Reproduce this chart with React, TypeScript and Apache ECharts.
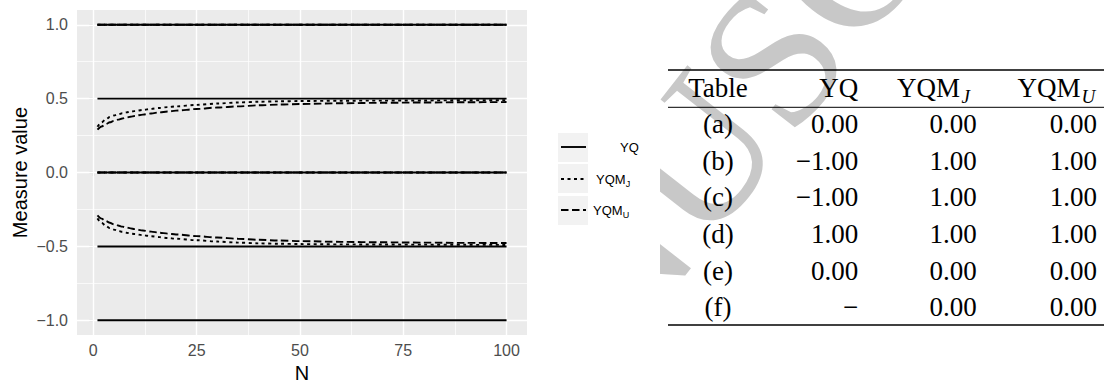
import React, { useEffect, useRef } from 'react';
import * as echarts from 'echarts';

// ---------- data ----------
const nValues = [1, 2, 3, 4, 5, 6, 7, 8, 9, 10, 12, 14, 16, 18, 20, 25, 30, 35, 40, 45, 50, 60, 70, 80, 90, 100];
const yqmJUpper = [0.31, 0.34, 0.36, 0.376, 0.386, 0.394, 0.401, 0.407, 0.412, 0.416, 0.424, 0.431, 0.437, 0.443, 0.448, 0.458, 0.467, 0.474, 0.479, 0.482, 0.484, 0.486, 0.487, 0.488, 0.489, 0.49];
const yqmUUpper = [0.29, 0.312, 0.328, 0.34, 0.35, 0.358, 0.366, 0.372, 0.378, 0.383, 0.392, 0.4, 0.407, 0.413, 0.419, 0.43, 0.44, 0.448, 0.455, 0.46, 0.464, 0.469, 0.472, 0.474, 0.476, 0.477];
const yqmJLower = [-0.31, -0.34, -0.36, -0.376, -0.386, -0.394, -0.401, -0.407, -0.412, -0.416, -0.424, -0.431, -0.437, -0.443, -0.448, -0.458, -0.467, -0.474, -0.479, -0.482, -0.484, -0.486, -0.487, -0.488, -0.489, -0.49];
const yqmULower = [-0.29, -0.312, -0.328, -0.34, -0.35, -0.358, -0.366, -0.372, -0.378, -0.383, -0.392, -0.4, -0.407, -0.413, -0.419, -0.43, -0.44, -0.448, -0.455, -0.46, -0.464, -0.469, -0.472, -0.474, -0.476, -0.477];
const nRange = [1, 100];
const yqLevels = [1, 0.5, 0, -0.5, -1];
const yqmJLevels = [1, 0];
const yqmULevels = [1, 0];
const xTicks = [0, 25, 50, 75, 100];
const yTicks = [-1, -0.5, 0, 0.5, 1];
const xMinor = [12.5, 37.5, 62.5, 87.5];
const yMinor = [-0.75, -0.25, 0.25, 0.75];
const legendMain = ['YQ', 'YQM', 'YQM'];
const legendSub = ['', 'J', 'U'];
const tableRowLabels = ['(a)', '(b)', '(c)', '(d)', '(e)', '(f)'];
const tableYQ = ['0.00', '\u22121.00', '\u22121.00', '1.00', '0.00', '\u2212'];
const tableYQMJ = ['0.00', '1.00', '1.00', '1.00', '0.00', '0.00'];
const tableYQMU = ['0.00', '1.00', '1.00', '1.00', '0.00', '0.00'];
const watermarkText = 'NUSCRIPT';

// ---------- styles ----------
const LW = 1.9;
const DOTTED = [3, 3.5];
const DASHED = [7.5, 3.5];
const SERIF = '"Liberation Serif", "Times New Roman", serif';
const SANS = '"Liberation Sans", Arial, sans-serif';

function fmt(v: number) {
  return v.toFixed(1).replace('-', '\u2212');
}

export default function App() {
  const ref = useRef<HTMLDivElement>(null);
  useEffect(() => {
    if (!ref.current) return;
    const chart = echarts.init(ref.current, undefined, { renderer: 'svg' });

    const curve = (name: string, ys: number[], dash: number[]) => ({
      name,
      type: 'line',
      data: nValues.map((n, i) => [n, ys[i]]),
      showSymbol: false,
      symbol: 'none',
      smooth: 0.3,
      smoothMonotone: 'x',
      z: 12,
      lineStyle: { color: '#000', width: LW, type: dash },
      silent: true,
    });
    const flat = (name: string, v: number, dash: any, z: number) => ({
      name,
      type: 'line',
      data: nRange.map((n) => [n, v]),
      showSymbol: false,
      symbol: 'none',
      z,
      lineStyle: { color: '#000', width: LW, type: dash },
      silent: true,
    });

    const gridMark = [
      ...xTicks.map((v) => ({ xAxis: v, lineStyle: { width: 1.4 } })),
      ...xMinor.map((v) => ({ xAxis: v, lineStyle: { width: 0.7 } })),
      ...yTicks.map((v) => ({ yAxis: v, lineStyle: { width: 1.4 } })),
      ...yMinor.map((v) => ({ yAxis: v, lineStyle: { width: 0.7 } })),
    ];

    const series: any[] = [
      {
        type: 'line',
        data: [],
        z: 1,
        silent: true,
        markLine: {
          z: 1,
          silent: true,
          symbol: 'none',
          animation: false,
          label: { show: false },
          lineStyle: { color: '#ffffff', type: 'solid' },
          data: gridMark,
        },
      },
      ...yqmJLevels.map((v) => flat('YQM_J', v, DOTTED, 11)),
      ...yqmULevels.map((v) => flat('YQM_U', v, DASHED, 11)),
      curve('YQM_J', yqmJUpper, DOTTED),
      curve('YQM_U', yqmUUpper, DASHED),
      curve('YQM_J', yqmJLower, DOTTED),
      curve('YQM_U', yqmULower, DASHED),
      ...yqLevels.map((v) => flat('YQ', v, 'solid', 13)),
    ];

    const graphics: any[] = [];

    // watermark (left part masked, drawn beneath the plot panel)
    const theta = (52 * Math.PI) / 180;
    const fs = 195;
    const anchor = [565, 322];
    graphics.push({
      type: 'text',
      x: anchor[0],
      y: anchor[1],
      rotation: theta,
      style: {
        text: watermarkText,
        fill: '#c8c8c8',
        font: `${fs}px ${SERIF}`,
        textAlign: 'left',
        textVerticalAlign: 'middle',
      },
      z: -2,
    });
    graphics.push({
      type: 'rect',
      shape: { x: 526, y: 0, width: 134, height: 388 },
      style: { fill: '#ffffff' },
      z: -1,
    });

    // legend
    const legendY = [147, 179, 210];
    const legendBoxTop = [133, 164, 196];
    const legendDash: any[] = [null, DOTTED, DASHED];
    const legendTextX = [620, 596, 593];
    legendY.forEach((y, i) => {
      graphics.push({
        type: 'rect',
        shape: { x: 558, y: legendBoxTop[i], width: 30, height: 29 },
        style: { fill: '#F2F2F2' },
        z: 10,
      });
      graphics.push({
        type: 'line',
        shape: { x1: 561, y1: y, x2: 586, y2: y },
        style: { stroke: '#000', lineWidth: LW, lineDash: legendDash[i] || undefined },
        z: 11,
      });
      graphics.push({
        type: 'text',
        x: legendTextX[i],
        y: y,
        style: { text: legendMain[i], fill: '#000', font: `13px ${SANS}`, textAlign: 'left', textVerticalAlign: 'middle' },
        z: 11,
      });
      if (legendSub[i]) {
        graphics.push({
          type: 'text',
          x: legendTextX[i] + 29.8,
          y: y + 4.5,
          style: { text: legendSub[i], fill: '#000', font: `9px ${SANS}`, textAlign: 'left', textVerticalAlign: 'middle' },
          z: 11,
        });
      }
    });

    // table
    const rowY = [124, 160.7, 197.3, 234, 270.7, 307.3];
    const headY = 88;
    const tFont = `27px ${SERIF}`;
    const colLabelX = 718;
    const colYQ = 858.3;
    const colJ = 976.7;
    const colU = 1097;
    const txt = (text: string, x: number, y: number, align: string, font = tFont) => ({
      type: 'text',
      x,
      y,
      style: { text, fill: '#000', font, textAlign: align, textVerticalAlign: 'middle' },
      z: 20,
    });
    graphics.push(
      { type: 'line', shape: { x1: 668, y1: 70, x2: 1104, y2: 70 }, style: { stroke: '#000', lineWidth: 1.3 }, z: 20 },
      { type: 'line', shape: { x1: 668, y1: 107.3, x2: 1104, y2: 107.3 }, style: { stroke: '#000', lineWidth: 1 }, z: 20 },
      { type: 'line', shape: { x1: 668, y1: 325, x2: 1104, y2: 325 }, style: { stroke: '#000', lineWidth: 1.3 }, z: 20 },
    );
    graphics.push(txt('Table', colLabelX, headY, 'center'));
    graphics.push(txt('YQ', colYQ, headY, 'right'));
    graphics.push(txt('YQM', 960, headY, 'right'));
    graphics.push(txt('J', 961.5, headY + 8, 'left', `italic 19px ${SERIF}`));
    graphics.push(txt('YQM', 1080.5, headY, 'right'));
    graphics.push(txt('U', 1081.5, headY + 8, 'left', `italic 19px ${SERIF}`));
    rowY.forEach((y, i) => {
      graphics.push(txt(tableRowLabels[i], colLabelX, y, 'center'));
      graphics.push(txt(tableYQ[i], colYQ, y, 'right'));
      graphics.push(txt(tableYQMJ[i], colJ, y, 'right'));
      graphics.push(txt(tableYQMU[i], colU, y, 'right'));
    });

    chart.setOption({
      animation: false,
      backgroundColor: '#ffffff',
      grid: { left: 77, right: 577, top: 10, bottom: 49, show: true, backgroundColor: '#EBEBEB', borderWidth: 0, z: 0 },
      xAxis: {
        type: 'value',
        min: -3.95,
        max: 104.95,
        name: 'N',
        nameLocation: 'middle',
        nameGap: 27,
        nameTextStyle: { color: '#000', fontSize: 20, fontFamily: SANS },
        axisLine: { show: false },
        axisTick: { show: true, customValues: xTicks, length: 4, lineStyle: { color: '#333333', width: 1.1 } },
        axisLabel: { customValues: xTicks, color: '#4D4D4D', fontSize: 16, fontFamily: SANS, margin: 7 },
        splitLine: { show: false },
      },
      yAxis: {
        type: 'value',
        min: -1.1,
        max: 1.1,
        name: 'Measure value',
        nameLocation: 'middle',
        nameGap: 47,
        nameTextStyle: { color: '#000', fontSize: 20, fontFamily: SANS },
        axisLine: { show: false },
        axisTick: { show: true, customValues: yTicks, length: 4, lineStyle: { color: '#333333', width: 1.1 } },
        axisLabel: { customValues: yTicks, color: '#4D4D4D', fontSize: 16, fontFamily: SANS, margin: 9, formatter: (v: number) => fmt(v) },
        splitLine: { show: false },
      },
      series,
      graphic: graphics,
    });
    return () => chart.dispose();
  }, []);
  return <div ref={ref} style={{ position: 'fixed', left: 0, top: 0, width: 1104, height: 388 }} />;
}
